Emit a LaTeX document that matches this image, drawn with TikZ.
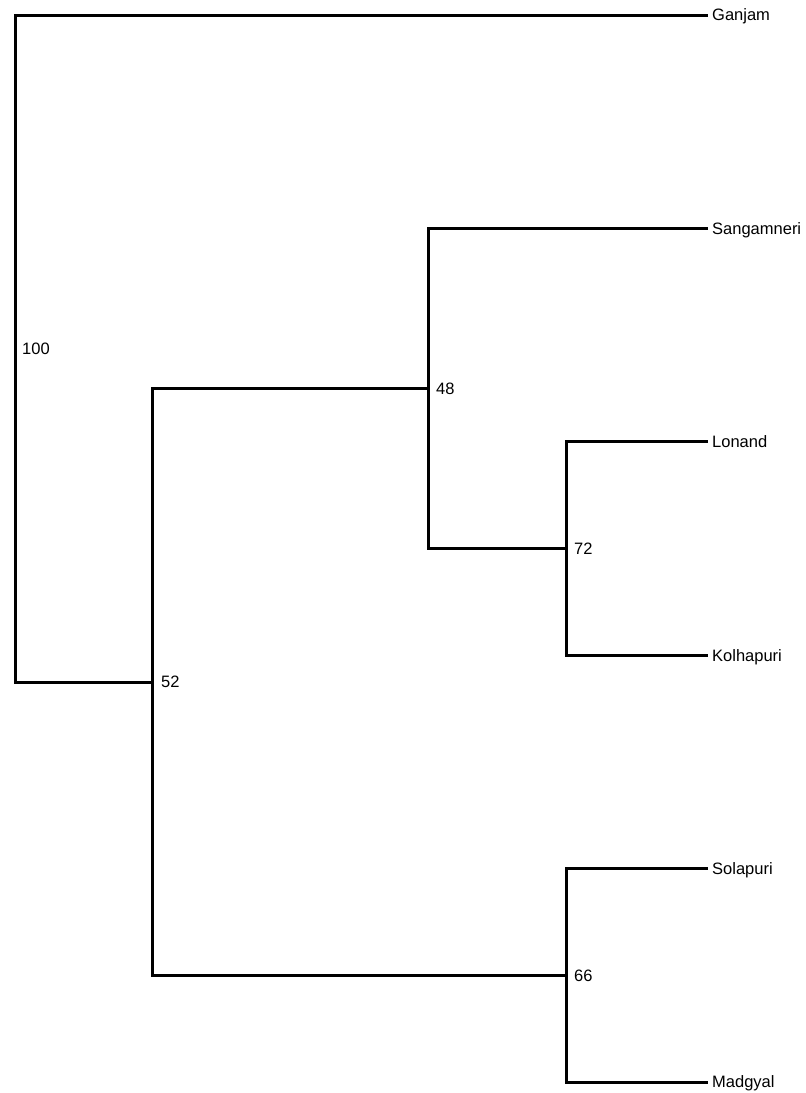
\documentclass[tikz,border=0pt]{standalone}
\usepackage{fontspec}
\setmainfont{Liberation Sans}
\begin{document}
\begin{tikzpicture}[x=1pt,y=-1pt,
  branch/.style={line width=3pt, line join=miter, line cap=rect, black},
  leaf/.style={anchor=west, inner xsep=6pt, inner ysep=0pt, text height=11.8pt, text depth=0pt, font=\fontsize{16.5}{19}\selectfont},
  support/.style={anchor=west, inner xsep=0pt, inner ysep=0pt, text height=11.8pt, text depth=0pt, font=\fontsize{16.5}{19}\selectfont}]
\useasboundingbox (0,0) rectangle (806,1093);
% internal nodes
\coordinate (n100) at (15,348.5);
\coordinate (n52) at (152,682);
\coordinate (n48) at (428,388.5);
\coordinate (n72) at (566,548.5);
\coordinate (n66) at (566,975.3);
% leaves
\node[leaf] (ganjam) at (706,15) {Ganjam};
\node[leaf] (sangamneri) at (706,228.4) {Sangamneri};
\node[leaf] (lonand) at (706,441.8) {Lonand};
\node[leaf] (kolhapuri) at (706,655.2) {Kolhapuri};
\node[leaf] (solapuri) at (706,868.6) {Solapuri};
\node[leaf] (madgyal) at (706,1082) {Madgyal};
% branches
\draw[branch] (ganjam.west) -| (n100) |- (n52);
\draw[branch] (n48) -| (n52) |- (n66);
\draw[branch] (sangamneri.west) -| (n48) |- (n72);
\draw[branch] (lonand.west) -| (n72) |- (kolhapuri.west);
\draw[branch] (solapuri.west) -| (n66) |- (madgyal.west);
% support values
\node[support] (l100) at ([xshift=7pt]n100) {100};
\node[support] (l52) at ([xshift=9pt]n52) {52};
\node[support] (l48) at ([xshift=8pt]n48) {48};
\node[support] (l72) at ([xshift=8pt]n72) {72};
\node[support] (l66) at ([xshift=8pt]n66) {66};
\end{tikzpicture}
\end{document}
